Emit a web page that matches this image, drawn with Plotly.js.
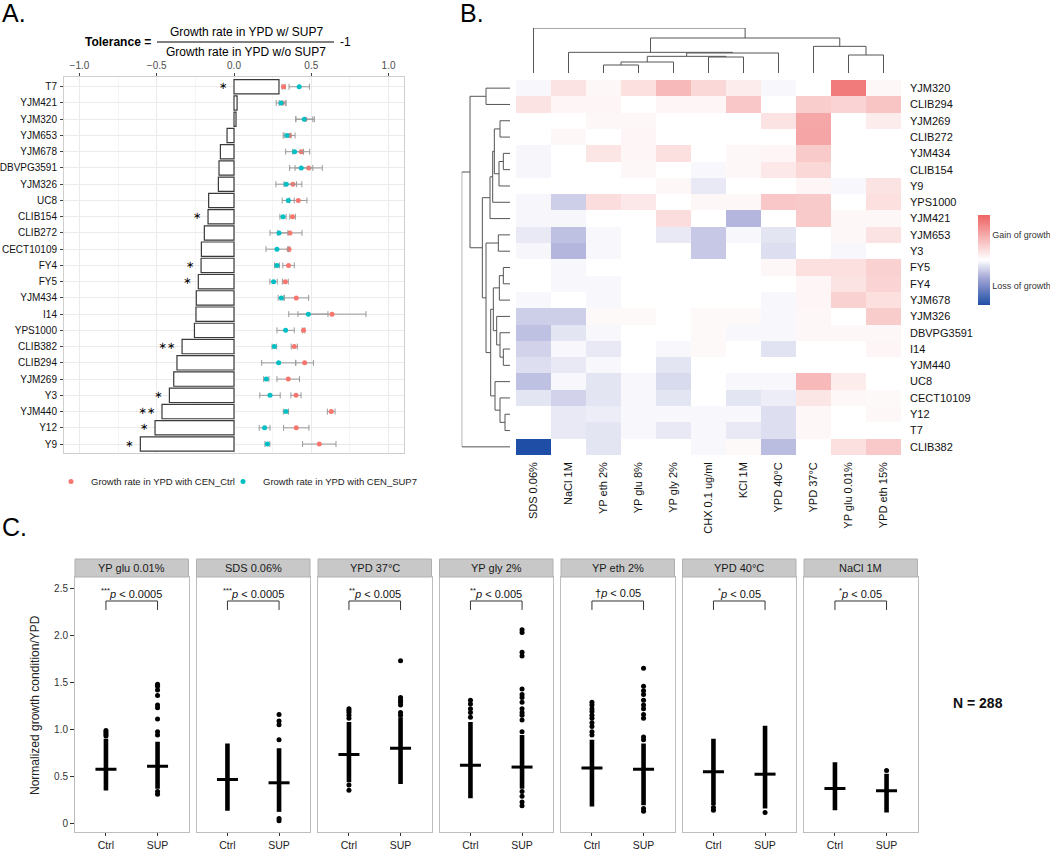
<!DOCTYPE html>
<html><head><meta charset="utf-8">
<script src="https://cdn.plot.ly/plotly-3.0.1.min.js"></script>
<style>html,body{margin:0;padding:0;background:#fff}#chart{width:1050px;height:851px}</style>
</head><body><div id="chart"></div>
<script>
// ================= DATA =================
// Panel A
const strainsA = ['T7','YJM421','YJM320','YJM653','YJM678','DBVPG3591','YJM326','UC8','CLIB154','CLIB272','CECT10109','FY4','FY5','YJM434','I14','YPS1000','CLIB382','CLIB294','YJM269','Y3','YJM440','Y12','Y9'];
const tolerance = [0.291,0.020,0.013,-0.045,-0.088,-0.097,-0.101,-0.164,-0.168,-0.192,-0.211,-0.213,-0.231,-0.244,-0.246,-0.256,-0.336,-0.369,-0.390,-0.418,-0.466,-0.511,-0.606];
const sigMarks = ['*','','','','','','','','*','','','*','*','','','','**','','','*','**','*','*'];
const ctrlRate = [0.321,0.312,0.460,0.360,0.435,0.483,0.381,0.416,0.379,0.362,0.356,0.353,0.332,0.403,0.634,0.450,0.390,0.457,0.351,0.401,0.629,0.403,0.552];
const ctrlErr  = [0.010,0.020,0.060,0.035,0.055,0.088,0.058,0.056,0.018,0.078,0.005,0.037,0.019,0.080,0.220,0.008,0.020,0.057,0.073,0.033,0.025,0.082,0.108];
const supRate  = [0.422,0.305,0.455,0.343,0.392,0.435,0.338,0.351,0.317,0.291,0.278,0.278,0.256,0.306,0.481,0.334,0.261,0.289,0.209,0.233,0.336,0.198,0.216];
const supErr   = [0.066,0.032,0.055,0.025,0.058,0.075,0.067,0.039,0.020,0.058,0.071,0.016,0.024,0.020,0.127,0.056,0.015,0.110,0.017,0.066,0.017,0.035,0.016];
const legendNames = ['Growth rate in YPD with CEN_Ctrl','Growth rate in YPD with CEN_SUP7'];

// Panel B
const conditionsB = ['SDS 0.06%','NaCl 1M','YP eth 2%','YP glu 8%','YP gly 2%','CHX 0.1 ug/ml','KCl 1M','YPD 40°C','YPD 37°C','YP glu 0.01%','YPD eth 15%'];
const strainsB = ['YJM320','CLIB294','YJM269','CLIB272','YJM434','CLIB154','Y9','YPS1000','YJM421','YJM653','Y3','FY5','FY4','YJM678','YJM326','DBVPG3591','I14','YJM440','UC8','CECT10109','Y12','T7','CLIB382'];
const heat = [
  [-0.03, 0.18, 0.05, 0.20, 0.45, 0.25, 0.12,-0.03, 0.00, 0.85, 0.05],
  [ 0.18, 0.06, 0.06, 0.00, 0.06, 0.06, 0.36, 0.00, 0.32, 0.28, 0.38],
  [ 0.00, 0.00, 0.05, 0.05, 0.00, 0.00, 0.00, 0.18, 0.57, 0.00, 0.12],
  [ 0.00, 0.05, 0.00, 0.06, 0.00, 0.00, 0.00, 0.00, 0.58, 0.00, 0.00],
  [-0.04, 0.00, 0.17, 0.06, 0.20, 0.00, 0.05, 0.06, 0.34, 0.00, 0.00],
  [-0.04, 0.00, 0.00, 0.05, 0.00,-0.03, 0.05, 0.15, 0.25, 0.00, 0.00],
  [ 0.00, 0.00, 0.00, 0.00, 0.05,-0.10, 0.00, 0.00, 0.06,-0.03, 0.18],
  [-0.04,-0.22, 0.22, 0.15, 0.00, 0.05, 0.05, 0.36, 0.34, 0.00, 0.20],
  [-0.04,-0.04, 0.00, 0.00, 0.22, 0.00,-0.33, 0.00, 0.34, 0.05, 0.05],
  [-0.10,-0.28,-0.03, 0.00,-0.10,-0.25,-0.03,-0.12, 0.00, 0.05, 0.18],
  [-0.04,-0.33,-0.03, 0.00, 0.00,-0.25, 0.00,-0.15, 0.00,-0.03, 0.00],
  [ 0.00,-0.03, 0.00, 0.00, 0.00, 0.00, 0.00, 0.05, 0.20, 0.20, 0.30],
  [ 0.00,-0.03,-0.03, 0.00, 0.00, 0.00, 0.00, 0.00, 0.06, 0.18, 0.28],
  [-0.03, 0.00,-0.03, 0.00, 0.00, 0.00, 0.00,-0.03, 0.06, 0.30, 0.20],
  [-0.22,-0.22, 0.04, 0.04, 0.00, 0.04, 0.04,-0.03, 0.05, 0.00, 0.33],
  [-0.28,-0.12,-0.03, 0.00, 0.00, 0.04,-0.03,-0.03, 0.05, 0.05, 0.05],
  [-0.20,-0.03,-0.10, 0.00,-0.03, 0.04, 0.00,-0.13, 0.00, 0.00, 0.06],
  [-0.15,-0.10,-0.03, 0.00,-0.12, 0.00, 0.00, 0.00, 0.00, 0.00, 0.00],
  [-0.28,-0.03,-0.12,-0.03,-0.17, 0.00,-0.03,-0.03, 0.45, 0.12, 0.00],
  [-0.12,-0.20,-0.12,-0.03,-0.12, 0.00,-0.12,-0.08, 0.17, 0.05, 0.04],
  [ 0.00,-0.10,-0.08,-0.03,-0.03,-0.03,-0.03,-0.15, 0.05, 0.00, 0.05],
  [ 0.00,-0.10,-0.12,-0.03,-0.10,-0.03,-0.10,-0.15, 0.05, 0.00, 0.00],
  [-1.00, 0.00,-0.12, 0.00, 0.00,-0.03, 0.04,-0.30, 0.00, 0.20, 0.35]
];
// row dendrogram merges (leaf index < 23, merged cluster = 23 + merge index)
const rowMergeA = [20,11,16,4,24,15,2,19,26,9,14,18,29,27,35,36,37,0,32,39,40,43];
const rowMergeB = [21,12,17,5,13,25,3,23,6,10,28,30,31,33,7,34,8,1,38,41,42,22];
const rowMergeH = [15,20,20,20,32,30,30,30,33,35,40,45,47,50,52,58,60,72,72,83,120,145];
// column dendrogram merges (leaf index < 11, merged cluster = 11 + merge index)
const colMergeA = [2,11,5,12,9,14,1,8,17,0];
const colMergeB = [3,4,6,13,10,7,16,15,18,19];
const colMergeH = [24,33,48,50,54,60,62,80,105,135];
const legendTicks = ['Gain of growth','Loss of growth'];

// Panel C
const condC = ['YP glu 0.01%','SDS 0.06%','YPD 37°C','YP gly 2%','YP eth 2%','YPD 40°C','NaCl 1M'];
const groupsC = ['Ctrl','SUP'];
const pLabels = ['<sup>***</sup><i>p</i> < 0.0005','<sup>***</sup><i>p</i> < 0.0005','<sup>**</sup><i>p</i> < 0.005','<sup>**</sup><i>p</i> < 0.005','†<i>p</i> < 0.05','<sup>*</sup><i>p</i> < 0.05','<sup>*</sup><i>p</i> < 0.05'];
const ctrlMed = [0.578,0.468,0.734,0.620,0.590,0.550,0.372];
const supMed  = [0.610,0.433,0.800,0.600,0.578,0.525,0.348];
const ctrlLo  = [0.35,0.135,0.44,0.27,0.18,0.195,0.14];
const ctrlHi  = [0.90,0.85,1.08,1.08,0.89,0.90,0.65];
const supLo   = [0.37,0.124,0.42,0.37,0.195,0.16,0.117];
const supHi   = [0.87,0.80,1.13,0.94,0.85,1.04,0.53];
const ctrlDots = [[0.93,0.95,0.97,0.99],[],[0.355,0.41,1.12,1.15,1.18,1.20,1.22],[1.13,1.18,1.22,1.27,1.31],[0.94,0.975,1.03,1.07,1.12,1.15,1.19,1.22,1.26,1.29],[0.14,0.17],[]];
const supDots  = [[0.31,0.34,0.94,0.975,1.11,1.23,1.26,1.36,1.42,1.46,1.48],[0.03,0.053,0.89,1.05,1.09,1.16],[1.15,1.18,1.26,1.29,1.31,1.34,1.73],[0.19,0.23,0.29,0.34,0.975,1.10,1.15,1.18,1.22,1.29,1.34,1.37,1.43,1.78,1.82,2.03,2.06],[0.13,0.16,0.89,0.92,1.12,1.16,1.22,1.26,1.31,1.37,1.41,1.46,1.65],[0.117],[0.564]];
const sampleN = 288;

// ================= LAYOUT HELPERS =================
const FONT = 'Liberation Sans, Arial, Helvetica, sans-serif';
const W = 1050, H = 851;
const px = v => v / W;
const py = v => 1 - v / H;

const traces = [];
const annotations = [];
const shapes = [];

// ---------- Panel A ----------
traces.push({type:'bar', orientation:'h', x: tolerance, y: strainsA, width: 0.88,
  marker:{color:'#ffffff', line:{color:'#3a3a3a', width:1.2}}, xaxis:'x', yaxis:'y', showlegend:false, hoverinfo:'skip'});
const sigIdx = sigMarks.map((s, i) => i).filter(i => sigMarks[i] !== '');
traces.push({type:'scatter', mode:'text', x: sigIdx.map(i => Math.min(0, tolerance[i]) - 0.045), y: sigIdx.map(i => strainsA[i]),
  text: sigIdx.map(i => sigMarks[i].replace(/\*/g, '∗')), textposition:'middle left', textfont:{size:10, color:'#000000', family:'DejaVu Sans'},
  xaxis:'x', yaxis:'y', showlegend:false, hoverinfo:'skip'});
traces.push({type:'scatter', mode:'markers', name: legendNames[0], legend:'legend', x: ctrlRate, y: strainsA,
  marker:{color:'#F8766D', size:5}, error_x:{type:'data', array: ctrlErr, color:'#9a9a9a', thickness:1, width:3},
  xaxis:'x', yaxis:'y', showlegend:true});
traces.push({type:'scatter', mode:'markers', name: legendNames[1], legend:'legend2', x: supRate, y: strainsA,
  marker:{color:'#00BFC4', size:5}, error_x:{type:'data', array: supErr, color:'#9a9a9a', thickness:1, width:3},
  xaxis:'x', yaxis:'y', showlegend:true});

// ---------- Panel B ----------
traces.push({type:'heatmap', z: heat, x: conditionsB, y: strainsB, xaxis:'x2', yaxis:'y2', zmin:-1, zmax:1,
  colorscale: [[0,'#1f4ea6'],[0.3,'#a4a7d6'],[0.5,'#ffffff'],[1,'#ee6464']], hoverinfo:'skip',
  colorbar:{x: px(978), xanchor:'left', y: py(260), yanchor:'middle', len: 90/H, lenmode:'fraction',
    thickness:12, thicknessmode:'pixels', outlinewidth:0, xpad:0, ypad:0,
    tickvals:[0.55,-0.58], ticktext: legendTicks, ticks:'', ticklen:0, tickfont:{size:9, color:'#333', family:FONT}}});

function dendro(n, A, B, Hs) {
  const pos = [], hgt = [];
  for (let i = 0; i < n; i++) { pos.push(i); hgt.push(0); }
  const p = [], h = [];
  for (let k = 0; k < A.length; k++) {
    const a = A[k], b = B[k], hh = Hs[k];
    p.push(pos[a], pos[a], pos[b], pos[b], null);
    h.push(hgt[a], hh, hh, hgt[b], null);
    pos.push((pos[a] + pos[b]) / 2); hgt.push(hh);
  }
  return {p, h};
}
const cd = dendro(conditionsB.length, colMergeA, colMergeB, colMergeH);
traces.push({type:'scatter', mode:'lines', x: cd.p, y: cd.h, xaxis:'x3', yaxis:'y3',
  line:{color:'#555', width:1}, showlegend:false, hoverinfo:'skip'});
const rd = dendro(strainsB.length, rowMergeA, rowMergeB, rowMergeH);
traces.push({type:'scatter', mode:'lines', x: rd.h, y: rd.p, xaxis:'x4', yaxis:'y4',
  line:{color:'#555', width:1}, showlegend:false, hoverinfo:'skip'});

// ---------- Layout ----------
const legendBase = {orientation:'h', xanchor:'left', yanchor:'top', font:{size:9.5, color:'#222'},
  itemwidth:30, bgcolor:'rgba(0,0,0,0)', borderwidth:0};
const layout = {
  width: W, height: H, margin:{l:0, r:0, t:0, b:0},
  paper_bgcolor:'#ffffff', plot_bgcolor:'#ffffff',
  font:{family: FONT, color:'#222'},
  showlegend: true,
  legend: Object.assign({}, legendBase, {x: px(51), y: py(467)}),
  legend2: Object.assign({}, legendBase, {x: px(223), y: py(467)}),
  xaxis:{domain:[px(64), px(404)], anchor:'y', side:'top', range:[-1.1, 1.1],
    tickvals:[-1,-0.5,0,0.5,1], ticktext:['−1.0','−0.5','0.0','0.5','1.0'],
    ticks:'outside', ticklen:3, tickcolor:'#444', tickfont:{size:10, color:'#4d4d4d'},
    showgrid:true, gridcolor:'#ebebeb', zeroline:false, showline:true, mirror:true, linecolor:'#cfcfcf', linewidth:1,
    minor:{tickvals:[-0.75,-0.25,0.25,0.75], showgrid:true, gridcolor:'#f5f5f5', ticks:''}},
  yaxis:{domain:[py(453), py(77)], anchor:'x', type:'category', categoryorder:'array', categoryarray: strainsA,
    range:[22.55, -0.6], ticks:'outside', ticklen:3, tickcolor:'#444', tickfont:{size:10, color:'#111'},
    ticklabelstandoff: 1,
    showgrid:true, gridcolor:'#ebebeb', zeroline:false, showline:true, mirror:true, linecolor:'#cfcfcf', linewidth:1},
  xaxis2:{domain:[px(516), px(901)], anchor:'y2', type:'category', categoryorder:'array', categoryarray: conditionsB,
    range:[-0.5, 10.5], tickangle:-90, ticks:'', tickfont:{size:11, color:'#111'}, showgrid:false, zeroline:false, showline:false,
    ticklabelstandoff: 4},
  yaxis2:{domain:[py(455), py(80)], anchor:'x2', side:'right', type:'category', categoryorder:'array', categoryarray: strainsB,
    range:[22.5, -0.5], ticks:'', tickfont:{size:11, color:'#111'}, showgrid:false, zeroline:false, showline:false,
    ticklabelstandoff: 8},
  xaxis3:{domain:[px(516), px(901)], anchor:'y3', range:[-0.5, 10.5], visible:false},
  yaxis3:{domain:[py(73), py(28)], anchor:'x3', range:[0, 135], visible:false},
  xaxis4:{domain:[px(461.7), px(510)], anchor:'y4', range:[145, 0], visible:false},
  yaxis4:{domain:[py(455), py(80)], anchor:'x4', range:[22.5, -0.5], visible:false},
  annotations, shapes
};

// ---------- Panel C ----------
const panelW = 113.5, panelStep = 121.5, panelL0 = 75;
const cBottom = 832, cTop = 577, stripTop = 559;
condC.forEach((c, i) => {
  const ax = 5 + i;
  const xa = 'x' + ax, ya = 'y' + ax;
  const L = panelL0 + panelStep * i, R = L + panelW;
  layout['xaxis' + ax] = {domain:[px(L), px(R)], anchor: ya, range:[-0.6, 1.6], tickvals:[0,1], ticktext: groupsC,
    ticks:'outside', ticklen:3, tickcolor:'#333', tickfont:{size:10.5, color:'#222'}, ticklabelstandoff: 0,
    showgrid:false, zeroline:false, showline:true, mirror:true, linecolor:'#bdbdbd', linewidth:1};
  layout['yaxis' + ax] = {domain:[py(cBottom), py(cTop)], anchor: xa, range:[-0.09, 2.62],
    showgrid:false, zeroline:false, showline:true, mirror:true, linecolor:'#bdbdbd', linewidth:1,
    tickvals:[0,0.5,1,1.5,2,2.5], ticktext:['0','0.5','1.0','1.5','2.0','2.5'],
    ticks: i === 0 ? 'outside' : '', ticklen:4, tickcolor:'#333', showticklabels: i === 0, tickfont:{size:10, color:'#333'}};
  traces.push({type:'scatter', mode:'lines', x:[0,0,null,1,1], y:[ctrlLo[i], ctrlHi[i], null, supLo[i], supHi[i]],
    line:{color:'#000', width:4.6}, xaxis:xa, yaxis:ya, showlegend:false, hoverinfo:'skip'});
  const dx = ctrlDots[i].map(() => 0).concat(supDots[i].map(() => 1));
  const dy = ctrlDots[i].concat(supDots[i]);
  traces.push({type:'scatter', mode:'markers', x: dx, y: dy, marker:{color:'#000', size:5},
    xaxis:xa, yaxis:ya, showlegend:false, hoverinfo:'skip'});
  traces.push({type:'scatter', mode:'markers', x:[0,1], y:[ctrlMed[i], supMed[i]],
    marker:{symbol:'line-ew', size:15, line:{color:'#000', width:3}}, xaxis:xa, yaxis:ya, showlegend:false, hoverinfo:'skip'});
  shapes.push({type:'rect', xref:'paper', yref:'paper', x0:px(L), x1:px(R), y0:py(cTop), y1:py(stripTop),
    fillcolor:'#c8c8c8', line:{color:'#b0b0b0', width:1}});
  annotations.push({xref:'paper', yref:'paper', x:px((L+R)/2), y:py((cTop+stripTop)/2), text:c, showarrow:false,
    font:{size:11, color:'#1a1a1a'}, xanchor:'center', yanchor:'middle'});
  shapes.push({type:'path', xref:xa, yref:ya, path:'M0,2.27 L0,2.365 L1,2.365 L1,2.27', line:{color:'#333', width:1}});
  annotations.push({xref:xa, yref:ya, x:0.5, y:2.45, text:pLabels[i], showarrow:false, font:{size:11, color:'#111'},
    xanchor:'center', yanchor:'middle'});
});

// ---------- text annotations ----------
annotations.push(
  {xref:'paper', yref:'paper', x:px(0), y:py(13), text:'A.', showarrow:false, xanchor:'left', yanchor:'middle', font:{size:25, color:'#000'}},
  {xref:'paper', yref:'paper', x:px(458), y:py(13), text:'B.', showarrow:false, xanchor:'left', yanchor:'middle', font:{size:25, color:'#000'}},
  {xref:'paper', yref:'paper', x:px(0), y:py(527), text:'C.', showarrow:false, xanchor:'left', yanchor:'middle', font:{size:25, color:'#000'}},
  {xref:'paper', yref:'paper', x:px(153), y:py(42), text:'<b>Tolerance =</b>', showarrow:false, xanchor:'right', yanchor:'middle', font:{size:12, color:'#000'}},
  {xref:'paper', yref:'paper', x:px(246), y:py(32), text:'Growth rate in YPD w/ SUP7', showarrow:false, xanchor:'center', yanchor:'middle', font:{size:12, color:'#000'}},
  {xref:'paper', yref:'paper', x:px(246), y:py(52), text:'Growth rate in YPD w/o SUP7', showarrow:false, xanchor:'center', yanchor:'middle', font:{size:12, color:'#000'}},
  {xref:'paper', yref:'paper', x:px(338), y:py(42), text:'-1', showarrow:false, xanchor:'left', yanchor:'middle', font:{size:12, color:'#000'}},
  {xref:'paper', yref:'paper', x:px(35), y:py(705), text:'Normalized growth condition/YPD', textangle:-90, showarrow:false, xanchor:'center', yanchor:'middle', font:{size:12, color:'#222'}},
  {xref:'paper', yref:'paper', x:px(978), y:py(703), text:'<b>N = ' + sampleN + '</b>', showarrow:false, xanchor:'center', yanchor:'middle', font:{size:14, color:'#111'}}
);
shapes.push({type:'line', xref:'paper', yref:'paper', x0:px(157), x1:px(334), y0:py(42), y1:py(42), line:{color:'#000', width:1}});

Plotly.newPlot('chart', traces, layout, {staticPlot:true, displayModeBar:false});
</script>
</body></html>
